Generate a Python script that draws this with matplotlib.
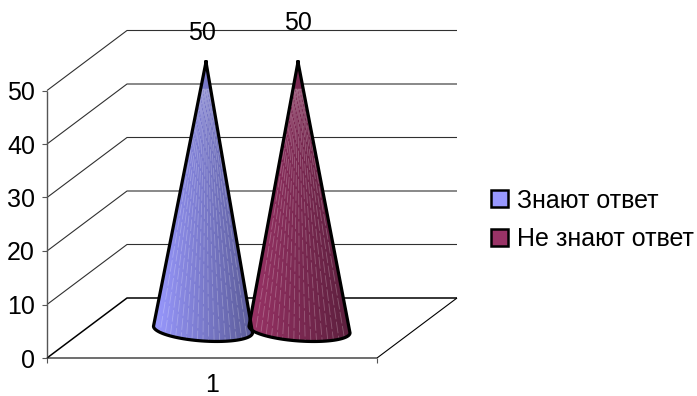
import numpy as np
import matplotlib
matplotlib.use("Agg")
import matplotlib.pyplot as plt
from matplotlib.patches import Patch, PathPatch
from matplotlib.path import Path

categories = ["1"]
series_names = ["Знают ответ", "Не знают ответ"]
series_values = [50, 50]
y_ticks = [0, 10, 20, 30, 40, 50]
fills = ["#9999FF", "#993366"]
shades = ["#5C5C99", "#5C1F3D"]

W, H = 697, 396
FS = 18
plt.rcParams["font.family"] = ["Liberation Sans", "DejaVu Sans"]
fig = plt.figure(figsize=(W / 100, H / 100), dpi=100)
L, R, B, T = 47, 377, 358, 90.5
ax = fig.add_axes([L / W, 1 - B / H, (R - L) / W, (B - T) / H])
ax.set_xlim(0.5, 1.5)
ax.set_ylim(0, 50)
ax.axis("off")

ux = 1 / (R - L)           # data per pixel, x
uy = 50 / (B - T)          # data per pixel, y
DX, DY = 80 * ux, 60 * uy  # depth offset of the back wall
x0, x1 = 0.5, 1.5


def line(xs, ys, c="#000000", lw=0.8, z=1):
    ax.plot(xs, ys, color=c, lw=lw, clip_on=False, zorder=z, solid_capstyle="butt")


for v in y_ticks:
    line([x0, x0 + DX, x1 + DX], [v, v + DY, v + DY], c="#000000" if v == 0 else "#303030",
         lw=1.1 if v == 0 else 0.8)
    line([x0 - 5 * ux, x0], [v, v], c="#555555")
    ax.text(x0 - 12 * ux, v, str(v), ha="right", va="center_baseline", fontsize=FS, clip_on=False)

line([x0, x0], [0, 50], c="#555555", lw=1.0)
line([x0, x1, x1 + DX], [0, 0, DY], lw=0.8)
for xb in (x0, x1):
    line([xb, xb], [0, -5 * uy], c="#555555")
ax.text(1.0, -25 * uy, categories[0], ha="center", va="center_baseline", fontsize=FS, clip_on=False)

# cone geometry: base centre and apex offsets, in pixels from the axes origin
base_cx = [203 - L, 299.5 - L]
apex_x = [206 - L, 298 - L]
half_w = [49.5, 50.5]
tilt = -3.3 / 49.5
base_y = 28.5        # base centre height above the front floor edge, px
semi_b = 11.5

for i, val in enumerate(series_values):
    cx = x0 + base_cx[i] * ux
    tip_x = x0 + apex_x[i] * ux
    cy = base_y * uy
    apex_y = cy + val
    t = np.linspace(0, np.pi, 60)
    ex = cx + half_w[i] * ux * np.cos(t)
    ey = cy + (half_w[i] * tilt * np.cos(t) - semi_b * np.sin(t)) * uy
    verts = [(tip_x, apex_y)] + list(zip(ex, ey)) + [(tip_x, apex_y)]
    codes = [Path.MOVETO] + [Path.LINETO] * (len(verts) - 2) + [Path.CLOSEPOLY]
    poly = Path(verts, codes)
    clip = PathPatch(poly, transform=ax.transData, fc="none", ec="none")
    ax.add_patch(clip)

    c0 = np.array(matplotlib.colors.to_rgb(fills[i]))
    c1 = np.array(matplotlib.colors.to_rgb(shades[i]))
    g = np.linspace(0, 1, 200)[:, None]
    grad = (c0 * (1 - g) + c1 * g)[None, :, :]
    left, right = ex[-1], ex[0]
    im = ax.imshow(grad, extent=[left, right, ey.min(), apex_y], aspect="auto", zorder=3,
                   interpolation="bilinear")
    im.set_clip_box(fig.bbox)
    im.set_clip_path(clip)

    # faint vertical ribs of the rendered cone surface, with staggered dashes
    for k, f in enumerate(np.linspace(0.05, 0.95, 17)):
        bx = left + f * (right - left)
        mx = tip_x + (bx - tip_x) * 0.1
        r, = ax.plot([bx, mx], [ey.min(), cy + val * 0.9], color="white", lw=0.6, alpha=0.25,
                     ls=((k * 5) % 17, (14, 3)), zorder=4)
        r.set_clip_box(fig.bbox)
        r.set_clip_path(clip)

    ax.plot([v[0] for v in verts], [v[1] for v in verts], color="black", lw=2.3, zorder=5,
            clip_on=False, solid_joinstyle="miter")

ax.set_xlim(0.5, 1.5)
ax.set_ylim(0, 50)

# data labels
label_x = [202, 298]
label_y = [31, 21]
for v, lx, ly in zip(series_values, label_x, label_y):
    ax.text(x0 + (lx - L) * ux, (B - ly) * uy, str(v), ha="center", va="center_baseline", fontsize=FS,
            clip_on=False, zorder=6)

handles = [Patch(facecolor=f, edgecolor="black", linewidth=1.8, label=n)
           for f, n in zip(fills, series_names)]
leg = fig.legend(handles=handles, loc="center left", bbox_to_anchor=(486 / W, 1 - 220 / H),
                 frameon=False, fontsize=FS, handlelength=0.68, handleheight=0.68,
                 handletextpad=0.35, labelspacing=0.6, borderpad=0.2, borderaxespad=0)

fig.savefig("out.png", dpi=100)
